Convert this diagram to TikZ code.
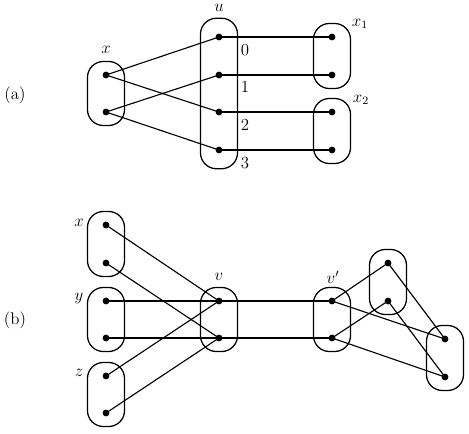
\documentclass[tikz,border=0pt]{standalone}
\usetikzlibrary{positioning,fit}

\begin{document}
\begin{tikzpicture}[x=0.025cm, y=-0.025cm, line width=0.8pt, font=\large,
  dot/.style={circle,fill,inner sep=0pt,minimum size=4.8pt},
  bag/.style={draw,rounded corners=0.4cm,inner xsep=0.365cm,inner ysep=0.24cm,line width=0.9pt},
  tall/.style={inner ysep=0.37cm}]
  \useasboundingbox (0,0) rectangle (469,434);

  % (a): one big bag u with four vertices
  \node (tagA) at (15,95) {(a)};

  \node[dot] (ax1) at (106,75) {};
  \node[dot] (ax2) at (106,112) {};
  \node[dot] (au0) at (219,37) {};
  \node[dot] (au1) at (219,75) {};
  \node[dot] (au2) at (219,112) {};
  \node[dot] (au3) at (219,150) {};
  \node[dot] (ap1) at (332,37) {};
  \node[dot] (ap2) at (332,75) {};
  \node[dot] (aq1) at (332,112) {};
  \node[dot] (aq2) at (332,150) {};

  \node[bag, fit=(ax1)(ax2)] (bagAx) {};
  \node[bag, tall, fit=(au0)(au3)] (bagAu) {};
  \node[bag, fit=(ap1)(ap2)] (bagAp) {};
  \node[bag, fit=(aq1)(aq2)] (bagAq) {};

  \node (labAx) at (106,50) {$x$};
  \node (labAu) at (219,8) {$u$};
  \node (labAp) at (360,24) {$x_1$};
  \node (labAq) at (361,100) {$x_2$};
  \node (num0) at (245,50) {0};
  \node (num1) at (245,87) {1};
  \node (num2) at (245,125) {2};
  \node (num3) at (245,163) {3};

  \draw (ax1.center) -- (au0.center);
  \draw (ax1.center) -- (au2.center);
  \draw (ax2.center) -- (au1.center);
  \draw (ax2.center) -- (au3.center);
  \draw (au0.center) -- (ap1.center);
  \draw (au1.center) -- (ap2.center);
  \draw (au2.center) -- (aq1.center);
  \draw (au3.center) -- (aq2.center);

  % (b): bags x, y, z meet v; v' splits to the right pair
  \node (tagB) at (15,320) {(b)};

  \node[dot] (bx1) at (106,225) {};
  \node[dot] (bx2) at (106,263) {};
  \node[dot] (by1) at (106,301) {};
  \node[dot] (by2) at (106,338) {};
  \node[dot] (bz1) at (106,376) {};
  \node[dot] (bz2) at (106,413) {};
  \node[dot] (bv1) at (219,301) {};
  \node[dot] (bv2) at (219,338) {};
  \node[dot] (bw1) at (332,301) {};
  \node[dot] (bw2) at (332,338) {};
  \node[dot] (bs1) at (388,263) {};
  \node[dot] (bs2) at (388,301) {};
  \node[dot] (bt1) at (445,339) {};
  \node[dot] (bt2) at (445,377) {};

  \node[bag, fit=(bx1)(bx2)] (bagBx) {};
  \node[bag, fit=(by1)(by2)] (bagBy) {};
  \node[bag, fit=(bz1)(bz2)] (bagBz) {};
  \node[bag, fit=(bv1)(bv2)] (bagBv) {};
  \node[bag, fit=(bw1)(bw2)] (bagBw) {};
  \node[bag, fit=(bs1)(bs2)] (bagBs) {};
  \node[bag, fit=(bt1)(bt2)] (bagBt) {};

  \node (labBx) at (79,223) {$x$};
  \node (labBy) at (79,299) {$y$};
  \node (labBz) at (79,373) {$z$};
  \node (labBv) at (219,277) {$v$};
  \node (labBw) at (333,277) {$v'$};

  \draw (bx1.center) -- (bv1.center);
  \draw (bx2.center) -- (bv2.center);
  \draw (by1.center) -- (bv1.center);
  \draw (by2.center) -- (bv2.center);
  \draw (bz1.center) -- (bv1.center);
  \draw (bz2.center) -- (bv2.center);
  \draw (bv1.center) -- (bw1.center);
  \draw (bv2.center) -- (bw2.center);
  \draw (bw1.center) -- (bs1.center);
  \draw (bw1.center) -- (bt1.center);
  \draw (bw2.center) -- (bs2.center);
  \draw (bw2.center) -- (bt2.center);
  \draw (bs1.center) -- (bt1.center);
  \draw (bs2.center) -- (bt2.center);
\end{tikzpicture}
\end{document}
